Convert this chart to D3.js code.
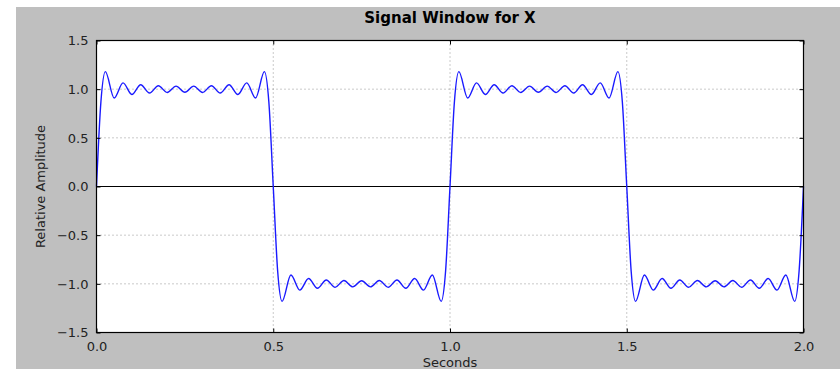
<!DOCTYPE html>
<html>
<head>
<meta charset="utf-8">
<script src="https://cdn.jsdelivr.net/npm/d3@7"></script>
<style>
  body { margin: 0; background: #ffffff; }
  text { font-family: "DejaVu Sans", sans-serif; }
</style>
</head>
<body>
<div id="chart"></div>
<script>
// sample times (seconds): extrema and zero crossings
let times = [
  0, 0.0125, 0.025, 0.05, 0.075, 0.1, 0.125, 0.15, 0.175, 0.2, 0.225, 0.25,
  0.275, 0.3, 0.325, 0.35, 0.375, 0.4, 0.425, 0.45, 0.475, 0.4875,
  0.5, 0.5125, 0.525, 0.55, 0.575, 0.6, 0.625, 0.65, 0.675, 0.7, 0.725, 0.75,
  0.775, 0.8, 0.825, 0.85, 0.875, 0.9, 0.925, 0.95, 0.975, 0.9875,
  1.0, 1.0125, 1.025, 1.05, 1.075, 1.1, 1.125, 1.15, 1.175, 1.2, 1.225, 1.25,
  1.275, 1.3, 1.325, 1.35, 1.375, 1.4, 1.425, 1.45, 1.475, 1.4875,
  1.5, 1.5125, 1.525, 1.55, 1.575, 1.6, 1.625, 1.65, 1.675, 1.7, 1.725, 1.75,
  1.775, 1.8, 1.825, 1.85, 1.875, 1.9, 1.925, 1.95, 1.975, 1.9875, 2.0
];

let amplitude = [
  0, 0.87, 1.18, 0.91, 1.065, 0.945, 1.045, 0.96, 1.035, 0.966, 1.031, 0.968,
  1.031, 0.966, 1.035, 0.96, 1.045, 0.945, 1.065, 0.91, 1.18, 0.87,
  0, -0.87, -1.18, -0.91, -1.065, -0.945, -1.045, -0.96, -1.035, -0.966, -1.031, -0.968,
  -1.031, -0.966, -1.035, -0.96, -1.045, -0.945, -1.065, -0.91, -1.18, -0.87,
  0, 0.87, 1.18, 0.91, 1.065, 0.945, 1.045, 0.96, 1.035, 0.966, 1.031, 0.968,
  1.031, 0.966, 1.035, 0.96, 1.045, 0.945, 1.065, 0.91, 1.18, 0.87,
  0, -0.87, -1.18, -0.91, -1.065, -0.945, -1.045, -0.96, -1.035, -0.966, -1.031, -0.968,
  -1.031, -0.966, -1.035, -0.96, -1.045, -0.945, -1.065, -0.91, -1.18, -0.87, 0
];

let xTicks = [0.0, 0.5, 1.0, 1.5, 2.0];
let yTicks = [-1.5, -1.0, -0.5, 0.0, 0.5, 1.0, 1.5];

let width = 840, height = 371;
let plotLeft = 96.5, plotRight = 803.5, plotTop = 40.5, plotBottom = 332.5;

let svg = d3.select("#chart").append("svg")
    .attr("width", width)
    .attr("height", height);

svg.append("clipPath").attr("id", "fig-clip")
  .append("rect")
    .attr("x", 16).attr("y", 7)
    .attr("width", width - 16).attr("height", 362);

let fig = svg.append("g").attr("clip-path", "url(#fig-clip)");

fig.append("rect")
    .attr("x", 16).attr("y", 7)
    .attr("width", width - 16).attr("height", 362)
    .attr("fill", "#bfbfbf");

fig.append("rect")
    .attr("x", plotLeft).attr("y", plotTop)
    .attr("width", plotRight - plotLeft).attr("height", plotBottom - plotTop)
    .attr("fill", "#ffffff");

let x = d3.scaleLinear().domain([0, 2]).range([plotLeft, plotRight]);
let y = d3.scaleLinear().domain([-1.5, 1.5]).range([plotBottom, plotTop]);

// grid
fig.append("g").selectAll("line")
    .data(xTicks.slice(1, -1))
    .enter().append("line")
    .attr("x1", d => x(d)).attr("x2", d => x(d))
    .attr("y1", plotTop).attr("y2", plotBottom)
    .attr("stroke", "#7a7a7a").attr("stroke-width", 0.8)
    .attr("stroke-dasharray", "1,3");

fig.append("g").selectAll("line")
    .data(yTicks.filter(d => d !== 0 && Math.abs(d) !== 1.5))
    .enter().append("line")
    .attr("x1", plotLeft).attr("x2", plotRight)
    .attr("y1", d => y(d)).attr("y2", d => y(d))
    .attr("stroke", "#7a7a7a").attr("stroke-width", 0.8)
    .attr("stroke-dasharray", "1,3");

// zero line
fig.append("line")
    .attr("x1", plotLeft).attr("x2", plotRight)
    .attr("y1", y(0)).attr("y2", y(0))
    .attr("stroke", "#000").attr("stroke-width", 1.2);

// signal
let points = times.map((t, i) => [t, amplitude[i]]);
let line = d3.line()
    .x(d => x(d[0]))
    .y(d => y(d[1]))
    .curve(d3.curveMonotoneX);

fig.append("path")
    .datum(points)
    .attr("d", line)
    .attr("fill", "none")
    .attr("stroke", "#1a1aff")
    .attr("stroke-width", 1.4);

// axes with inward ticks
let xAxis = fig.append("g")
    .attr("transform", "translate(0," + plotBottom + ")")
    .call(d3.axisBottom(x).tickValues(xTicks).tickFormat(d3.format(".1f")).tickSizeInner(-4).tickSizeOuter(0).tickPadding(9));
let xAxisTop = fig.append("g")
    .attr("transform", "translate(0," + plotTop + ")")
    .call(d3.axisTop(x).tickValues(xTicks).tickFormat("").tickSizeInner(-4).tickSizeOuter(0));
let yAxis = fig.append("g")
    .attr("transform", "translate(" + plotLeft + ",0)")
    .call(d3.axisLeft(y).tickValues(yTicks).tickFormat(d => d3.format(".1f")(d).replace("-", "\u2212")).tickSizeInner(-4).tickSizeOuter(0).tickPadding(8));
let yAxisRight = fig.append("g")
    .attr("transform", "translate(" + plotRight + ",0)")
    .call(d3.axisRight(y).tickValues(yTicks).tickFormat("").tickSizeInner(-4).tickSizeOuter(0));

[xAxis, xAxisTop, yAxis, yAxisRight].forEach(a => {
  a.select(".domain").remove();
  a.selectAll("text")
      .style("font-family", "DejaVu Sans, sans-serif")
      .style("font-size", "13px")
      .attr("fill", "#222");
  a.selectAll("line").attr("stroke", "#000");
});

// frame
fig.append("rect")
    .attr("x", plotLeft).attr("y", plotTop)
    .attr("width", plotRight - plotLeft).attr("height", plotBottom - plotTop)
    .attr("fill", "none")
    .attr("stroke", "#000").attr("stroke-width", 1.2);

fig.append("text")
    .attr("x", (plotLeft + plotRight) / 2).attr("y", 23)
    .attr("text-anchor", "middle")
    .style("font-size", "15px").style("font-weight", "bold")
    .text("Signal Window for X");

fig.append("text")
    .attr("x", (plotLeft + plotRight) / 2).attr("y", 367)
    .attr("text-anchor", "middle")
    .style("font-size", "13px")
    .attr("fill", "#222")
    .text("Seconds");

fig.append("text")
    .attr("transform", "translate(45," + ((plotTop + plotBottom) / 2) + ") rotate(-90)")
    .attr("text-anchor", "middle")
    .style("font-size", "13px")
    .attr("fill", "#222")
    .text("Relative Amplitude");
</script>
</body>
</html>
